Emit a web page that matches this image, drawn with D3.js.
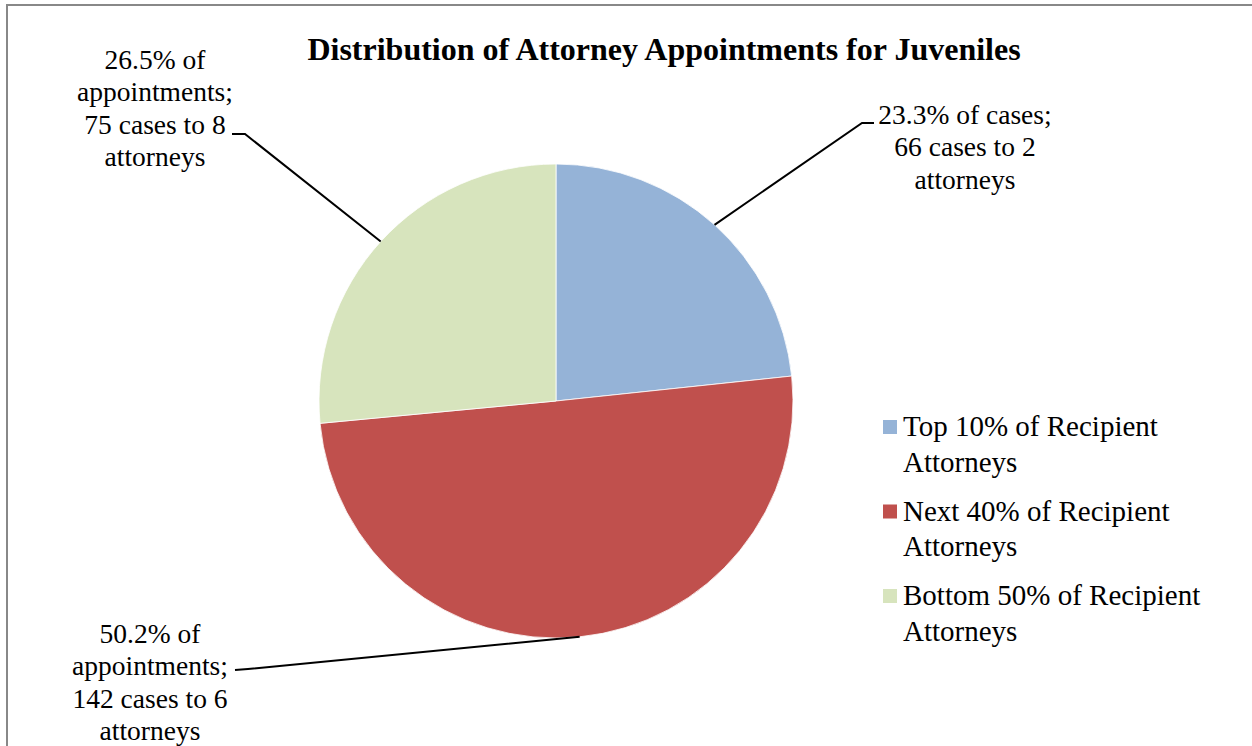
<!DOCTYPE html>
<html>
<head>
<meta charset="utf-8">
<script src="https://cdn.jsdelivr.net/npm/d3@7"></script>
<style>
  html, body { margin: 0; padding: 0; background: #fff; }
  svg { display: block; }
  text { font-family: "Liberation Serif", "Times New Roman", serif; fill: #000; }
</style>
</head>
<body>
<svg id="chart" width="1252" height="746"></svg>
<script>
// ---- data ----
const categories = ["Top 10% of Recipient Attorneys", "Next 40% of Recipient Attorneys", "Bottom 50% of Recipient Attorneys"];
const legendLines = [["Top 10% of Recipient", "Attorneys"], ["Next 40% of Recipient", "Attorneys"], ["Bottom 50% of Recipient", "Attorneys"]];
const cases = [66, 142, 75];
const attorneys = [2, 6, 8];
const colors = ["#95B3D7", "#C0504D", "#D7E4BD"];
const title = "Distribution of Attorney Appointments for Juveniles";

// ---- layout ----
const W = 1252, H = 746;
const cx = 556, cy = 401, R = 237;
const svg = d3.select("#chart");

// frame
svg.append("path")
  .attr("d", `M7,${H + 5} L7,5 L${W + 5},5`)
  .attr("fill", "none").attr("stroke", "#888").attr("stroke-width", 2);

// title
svg.append("text")
  .attr("x", 664).attr("y", 60)
  .attr("text-anchor", "middle")
  .style("font-weight", "bold").style("font-size", "32px")
  .text(title);

const total = d3.sum(cases);
const pct = cases.map(v => (v / total * 100).toFixed(1));

const pie = d3.pie().sort(null).value(d => d)(cases);
const arc = d3.arc().innerRadius(0).outerRadius(R);
const edgeArc = d3.arc().innerRadius(R).outerRadius(R);

const g = svg.append("g").attr("transform", `translate(${cx},${cy})`);
g.selectAll("path.slice").data(pie).enter().append("path")
  .attr("class", "slice")
  .attr("d", arc)
  .attr("fill", (d, i) => colors[i])
  .attr("stroke", "#fff").attr("stroke-width", 0.8);

// data labels
const labelTexts = [
  [`${pct[0]}% of cases;`, `${cases[0]} cases to ${attorneys[0]}`, "attorneys"],
  [`${pct[1]}% of`, "appointments;", `${cases[1]} cases to ${attorneys[1]}`, "attorneys"],
  [`${pct[2]}% of`, "appointments;", `${cases[2]} cases to ${attorneys[2]}`, "attorneys"]
];
// label layout: text centre x, first baseline y, leader elbow and end
const labelLayout = [
  { x: 965, y: 124, elbow: [862, 123], end: [874, 123] },
  { x: 150, y: 643, elbow: [248, 669], end: [235, 670] },
  { x: 155, y: 69, elbow: [245, 134], end: [232, 134] }
];
const lineH = 32.4;

pie.forEach((d, i) => {
  const p = edgeArc.centroid(d);
  const start = [cx + p[0], cy + p[1]];
  const L = labelLayout[i];
  svg.append("path")
    .attr("d", d3.line()([start, L.elbow, L.end]))
    .attr("fill", "none").attr("stroke", "#000").attr("stroke-width", 2);
  const t = svg.append("text")
    .attr("text-anchor", "middle")
    .style("font-size", "27.5px");
  labelTexts[i].forEach((s, j) => {
    t.append("tspan").attr("x", L.x).attr("y", L.y + j * lineH).text(s);
  });
});

// legend
const lg = svg.append("g");
const legY0 = 436, legStep = 84.5, legLineH = 35.5;
legendLines.forEach((lines, i) => {
  const by = legY0 + i * legStep;
  lg.append("rect")
    .attr("x", 883).attr("y", by - 16).attr("width", 14).attr("height", 14)
    .attr("fill", colors[i]);
  const t = lg.append("text").style("font-size", "29px");
  lines.forEach((s, j) => {
    t.append("tspan").attr("x", 903).attr("y", by + j * legLineH).text(s);
  });
});
</script>
</body>
</html>
